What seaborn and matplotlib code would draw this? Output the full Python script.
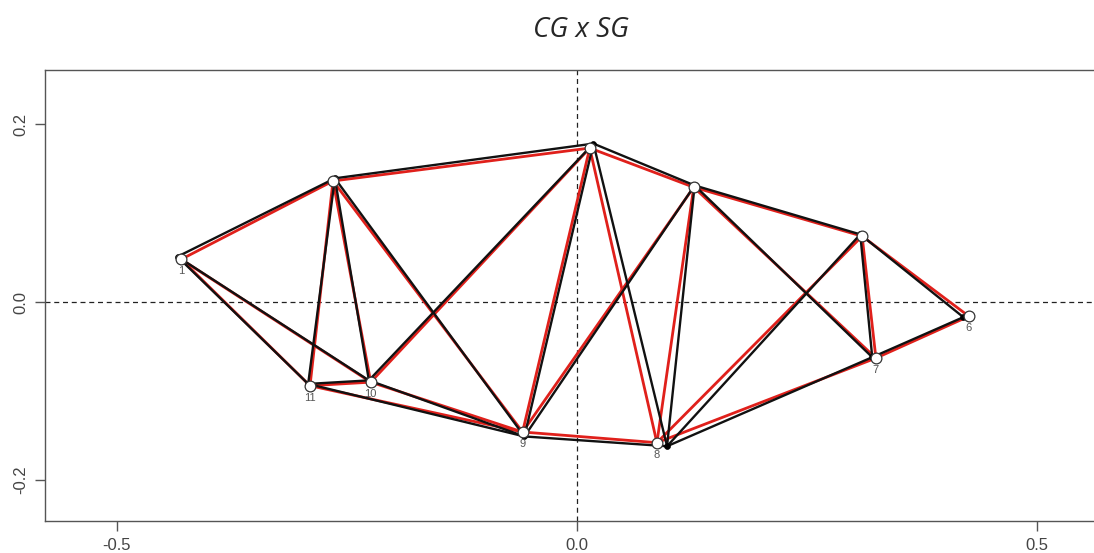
import matplotlib
matplotlib.use("Agg")
import matplotlib.pyplot as plt
import seaborn as sns
import pandas as pd

# Data: two configurations (red = open circles, black = filled dots)
point_ids = ["1", "2", "3", "4", "5", "6", "7", "8", "9", "10", "11"]
label_text = ["1", "", "", "", "", "6", "7", "8", "9", "10", "11"]
red_x = [-0.430, -0.265, 0.014, 0.127, 0.310, 0.426, 0.325, 0.087, -0.059, -0.224, -0.290]
red_y = [0.048, 0.136, 0.173, 0.129, 0.074, -0.016, -0.063, -0.158, -0.146, -0.090, -0.094]
black_x = [-0.434, -0.263, 0.018, 0.128, 0.308, 0.420, 0.321, 0.098, -0.057, -0.226, -0.292]
black_y = [0.051, 0.139, 0.178, 0.131, 0.076, -0.017, -0.062, -0.162, -0.151, -0.088, -0.092]
edges = [(1, 2), (1, 10), (1, 11), (2, 3), (2, 9), (2, 10), (2, 11), (3, 4), (3, 8), (3, 9),
         (3, 10), (4, 5), (4, 7), (4, 8), (4, 9), (5, 6), (5, 7), (5, 8), (6, 7), (7, 8),
         (8, 9), (9, 10), (9, 11), (10, 11)]
x_ticks = [-0.5, 0.0, 0.5]
y_ticks = [-0.2, 0.0, 0.2]
title = "CG x SG"

sns.set_style("white")
plt.rcParams["font.family"] = ["Liberation Sans", "DejaVu Sans"]

W, H = 1094, 553
fig = plt.figure(figsize=(W / 100, H / 100), dpi=100)
ax = fig.add_axes([45 / W, 1 - 521 / H, (1094 - 45) / W, (521 - 70) / H])

# Edges
for a, b in edges:
    i, j = a - 1, b - 1
    ax.plot([red_x[i], red_x[j]], [red_y[i], red_y[j]], color="#e0201b", lw=2.0,
            zorder=2, solid_capstyle="round")
for a, b in edges:
    i, j = a - 1, b - 1
    ax.plot([black_x[i], black_x[j]], [black_y[i], black_y[j]], color="#111111", lw=1.7,
            zorder=3, solid_capstyle="round")

dfb = pd.DataFrame({"x": black_x, "y": black_y})
dfr = pd.DataFrame({"x": red_x, "y": red_y})
sns.scatterplot(data=dfb, x="x", y="y", ax=ax, color="black", s=18, edgecolor="black",
                linewidth=0.5, zorder=4)
sns.scatterplot(data=dfr, x="x", y="y", ax=ax, color="white", s=60, edgecolor="#333333",
                linewidth=0.9, zorder=5)

for xv, yv, t in zip(red_x, red_y, label_text):
    if t:
        ax.annotate(t, (xv, yv), xytext=(0, -12), textcoords="offset pixels",
                    ha="center", va="center", fontsize=8, color="#555555", zorder=6)

ax.axhline(0, color="#222222", lw=0.9, ls=(0, (4, 3)), zorder=1)
ax.axvline(0, color="#222222", lw=0.9, ls=(0, (4, 3)), zorder=1)

ax.set_xlim(-0.578, 0.562)
ax.set_ylim(-0.246, 0.2607)
ax.set_xticks(x_ticks)
ax.set_xticklabels(["-0.5", "0.0", "0.5"])
ax.set_yticks(y_ticks)
ax.set_yticklabels(["-0.2", "0.0", "0.2"], rotation=90, va="center")
ax.tick_params(axis="both", direction="out", length=7, width=1, color="#555555",
               labelsize=12, labelcolor="#444444", pad=5, left=True, bottom=True)
for s in ["left", "bottom", "top"]:
    ax.spines[s].set_color("#555555")
    ax.spines[s].set_linewidth(1.0)
ax.spines["right"].set_visible(False)
ax.set_xlabel("")
ax.set_ylabel("")

fig.text(581 / W, 1 - 30 / H, title, ha="center", va="center", fontsize=20,
         style="italic", family=["Open Sans", "DejaVu Sans"])

fig.savefig("out.png", dpi=100)
